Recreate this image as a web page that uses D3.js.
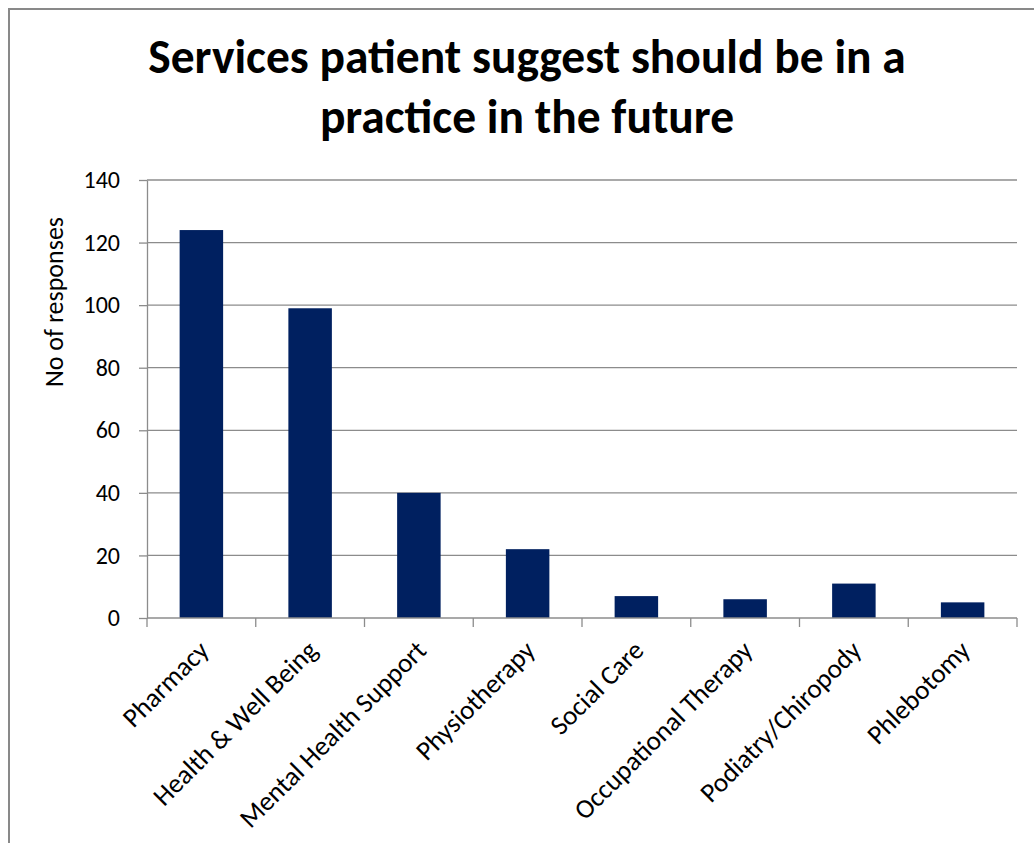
<!DOCTYPE html>
<html><head><meta charset="utf-8">
<script src="https://cdn.jsdelivr.net/npm/d3@7"></script>
<style>body{margin:0;background:#fff;} svg{display:block;}</style>
</head><body>
<script>
const categories = ["Pharmacy","Health & Well Being","Mental Health Support","Physiotherapy","Social Care","Occupational Therapy","Podiatry/Chiropody","Phlebotomy"];
const values = [124, 99, 40, 22, 7, 6, 11, 5];
const yTicks = [0,20,40,60,80,100,120,140];
const titleLines = ["Services patient suggest should be in a","practice in the future"];
const yLabel = "No of responses";

const W = 1034, H = 843;
const font = "Carlito, Calibri, 'Open Sans', sans-serif";
const svg = d3.select("body").append("svg").attr("width", W).attr("height", H);

// chart frame
svg.append("path").attr("d", `M9,${H} V9 H${W}`).attr("fill","none").attr("stroke","#898989").attr("stroke-width",2);

const m = {left:147, right:1017, top:180, bottom:618};
const x = d3.scaleBand().domain(categories).range([m.left, m.right]).paddingInner(0.6).paddingOuter(0.3);
const y = d3.scaleLinear().domain([0,140]).range([m.bottom, m.top]);

// gridlines
svg.append("g").selectAll("line").data(yTicks.filter(d=>d>0)).join("line")
  .attr("x1", m.left).attr("x2", m.right).attr("y1", d=>y(d)).attr("y2", d=>y(d))
  .attr("stroke","#8c8c8c").attr("stroke-width",1.3);

// y axis
const yAxis = svg.append("g").attr("transform",`translate(${m.left},0)`)
  .call(d3.axisLeft(y).tickValues(yTicks).tickSize(8).tickPadding(19).tickSizeOuter(0));
yAxis.select(".domain").attr("stroke","#8c8c8c").attr("stroke-width",1.3);
yAxis.selectAll(".tick line").attr("stroke","#8c8c8c").attr("stroke-width",1.3);
yAxis.selectAll("text").attr("font-family",font).attr("font-size",24).attr("fill","#000");

// bars
svg.append("g").selectAll("rect").data(values).join("rect")
  .attr("x",(d,i)=>x(categories[i])).attr("width",x.bandwidth())
  .attr("y",d=>y(d)).attr("height",d=>y(0)-y(d)).attr("fill","#002060");

// x axis
const xAxisG = svg.append("g").attr("transform",`translate(0,${m.bottom})`);
xAxisG.append("line").attr("x1",m.left).attr("x2",m.right).attr("stroke","#8c8c8c").attr("stroke-width",1.3);
const bounds = d3.range(categories.length+1).map(i=>m.left + i*(m.right-m.left)/categories.length);
xAxisG.selectAll("line.tk").data(bounds).join("line").attr("class","tk")
  .attr("x1",d=>d).attr("x2",d=>d).attr("y1",0).attr("y2",9).attr("stroke","#8c8c8c").attr("stroke-width",1.3);
xAxisG.selectAll("text").data(categories).join("text")
  .attr("transform",d=>`translate(${x(d)+x.bandwidth()/2+9},${34}) rotate(-45)`)
  .attr("text-anchor","end").attr("font-family",font).attr("font-size",27).attr("fill","#000")
  .text(d=>d);

// y label
svg.append("text").attr("transform",`translate(63,${302}) rotate(-90)`)
  .attr("text-anchor","middle").attr("font-family",font).attr("font-size",26).attr("fill","#000").text(yLabel);

// title
svg.append("g").selectAll("text").data(titleLines).join("text")
  .attr("x",527).attr("y",(d,i)=>73+i*60).attr("text-anchor","middle")
  .attr("font-family",font).attr("font-weight","bold").attr("font-size",47.5).attr("fill","#000")
  .text(d=>d);
</script>
</body></html>
